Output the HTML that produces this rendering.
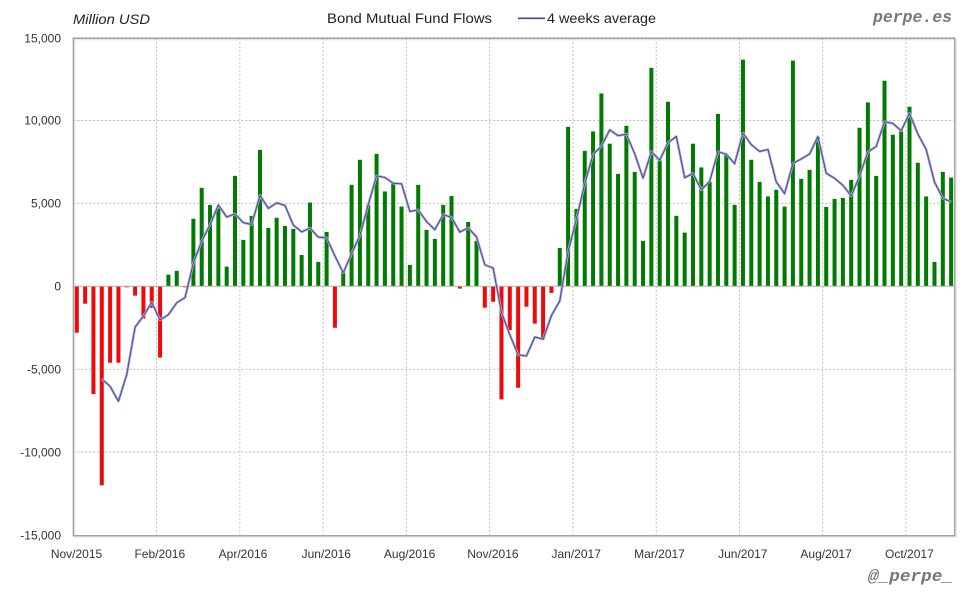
<!DOCTYPE html>
<html>
<head>
<meta charset="utf-8">
<style>
  html,body{margin:0;padding:0;background:#fff;}
  body{width:980px;height:600px;overflow:hidden;}
  svg{display:block;}
  .tick{font-family:"Liberation Sans",sans-serif;font-size:12px;fill:#333;}
</style>
</head>
<body>
<svg id="chart" width="980" height="600" viewBox="0 0 980 600" xmlns="http://www.w3.org/2000/svg">
  <rect x="0" y="0" width="980" height="600" fill="#fff"/>
  <!-- header -->
  <text x="73" y="24" font-family="Liberation Sans, sans-serif" font-style="italic" font-size="13.5" fill="#222" textLength="77" lengthAdjust="spacingAndGlyphs">Million USD</text>
  <text x="327" y="23" font-family="Liberation Sans, sans-serif" font-size="13.5" fill="#222" textLength="165" lengthAdjust="spacingAndGlyphs">Bond Mutual Fund Flows</text>
  <line x1="518" y1="18.3" x2="545" y2="18.3" stroke="#44449a" stroke-width="1.6"/>
  <text x="547" y="23" font-family="Liberation Sans, sans-serif" font-size="13.5" fill="#222" textLength="109" lengthAdjust="spacingAndGlyphs">4 weeks average</text>
  <text x="873" y="22" font-family="Liberation Mono, monospace" font-weight="bold" font-style="italic" font-size="16.5" fill="#777" textLength="79" lengthAdjust="spacingAndGlyphs">perpe.es</text>
  <text x="868" y="581" font-family="Liberation Mono, monospace" font-weight="bold" font-style="italic" font-size="17" fill="#777" textLength="85" lengthAdjust="spacingAndGlyphs">@_perpe_</text>

  <!-- frame shadow -->
  <rect x="74.3" y="39.3" width="881.4" height="497.4" fill="none" stroke="#e4e4e4" stroke-width="2"/>
  <g id="grid"></g>
  <g id="bars"></g>
  <line x1="73.3" y1="286.3" x2="954.7" y2="286.3" stroke="#b0b0b0" stroke-width="1"/>
  <g id="line"></g>
  <rect x="73.3" y="38.3" width="881.4" height="497.4" fill="none" stroke="#a0a0a0" stroke-width="1.3"/>

  <!-- y ticks -->
  <text class="tick" x="61" y="42.5" text-anchor="end">15,000</text>
  <text class="tick" x="61" y="124.5" text-anchor="end">10,000</text>
  <text class="tick" x="61" y="207.5" text-anchor="end">5,000</text>
  <text class="tick" x="61" y="290.5" text-anchor="end">0</text>
  <text class="tick" x="61" y="373.5" text-anchor="end">-5,000</text>
  <text class="tick" x="61" y="456.5" text-anchor="end">-10,000</text>
  <text class="tick" x="61" y="539.5" text-anchor="end">-15,000</text>

  <!-- x ticks -->
  <text class="tick" x="76.5" y="558" text-anchor="middle">Nov/2015</text>
  <text class="tick" x="159.8" y="558" text-anchor="middle">Feb/2016</text>
  <text class="tick" x="243" y="558" text-anchor="middle">Apr/2016</text>
  <text class="tick" x="326.3" y="558" text-anchor="middle">Jun/2016</text>
  <text class="tick" x="409.6" y="558" text-anchor="middle">Aug/2016</text>
  <text class="tick" x="492.9" y="558" text-anchor="middle">Nov/2016</text>
  <text class="tick" x="576.2" y="558" text-anchor="middle">Jan/2017</text>
  <text class="tick" x="659.5" y="558" text-anchor="middle">Mar/2017</text>
  <text class="tick" x="742.8" y="558" text-anchor="middle">Jun/2017</text>
  <text class="tick" x="826.1" y="558" text-anchor="middle">Aug/2017</text>
  <text class="tick" x="909.4" y="558" text-anchor="middle">Oct/2017</text>
</svg>
<script>
(function(){
  var NS="http://www.w3.org/2000/svg";
  var vals=[-2800,-1050,-6500,-12000,-4610,-4610,-60,-564,-1953,-1300,
    -4300,700,930,-60,4070,5940,4900,4700,1190,6660,
    2800,4250,8230,3520,4130,3640,3460,1890,5050,1470,
    3280,-2500,1000,6120,7630,4910,7990,5720,6220,4810,
    1290,6120,3400,2860,4910,5450,-140,3880,2740,-1290,
    -930,-6820,-2640,-6120,-1230,-2250,-3180,-400,2310,9620,
    4670,8170,9340,11630,8600,6780,9680,6900,2740,13180,
    7590,11130,4250,3240,8600,7170,6300,10400,7970,4910,
    13670,7630,6300,5420,5820,4810,13610,6480,7020,9000,
    4790,5270,5330,6420,9560,11090,6660,12400,9140,9340,
    10830,7450,5420,1470,6900,6560];
  var x0=73.3, pitch=8.327, zero=286.3, k=82.9/5000, top=38.3, bottom=535.7, right=954.7;
  var grid=document.getElementById('grid');
  function mk(tag,attrs,parent){var e=document.createElementNS(NS,tag);for(var a in attrs)e.setAttribute(a,attrs[a]);parent.appendChild(e);return e;}
  [15000,10000,5000,-5000,-10000].forEach(function(v){
    var y=zero-v*k;
    mk('line',{x1:x0,y1:y,x2:right,y2:y,stroke:'#bdbdbd','stroke-width':1,'stroke-dasharray':'2,2'},grid);
  });
  for(var g=1;g<=10;g++){
    var x=x0+pitch*10*g;
    mk('line',{x1:x,y1:top,x2:x,y2:bottom,stroke:'#bdbdbd','stroke-width':1,'stroke-dasharray':'2,2'},grid);
  }
  var bars=document.getElementById('bars');
  vals.forEach(function(v,i){
    var x=x0+pitch*i+1.5;
    var h=Math.abs(v)*k;
    var y=v>=0?zero-h:zero;
    mk('rect',{x:x.toFixed(2),y:y.toFixed(2),width:4,height:Math.max(h,1).toFixed(2),fill:v>=0?'#007a00':'#ee0a0a'},bars);
  });
  var pts=[];
  for(var i=3;i<vals.length;i++){
    var a=(vals[i]+vals[i-1]+vals[i-2]+vals[i-3])/4;
    pts.push((x0+pitch*i+3.5).toFixed(2)+','+(zero-a*k).toFixed(2));
  }
  var lg=document.getElementById('line');
  mk('polyline',{points:pts.join(' '),fill:'none',stroke:'#aeaedb','stroke-width':2.6,'stroke-linejoin':'round'},lg);
  mk('polyline',{points:pts.join(' '),fill:'none',stroke:'#4a4a92','stroke-width':1,'stroke-linejoin':'round'},lg);
})();
</script>
</body>
</html>
